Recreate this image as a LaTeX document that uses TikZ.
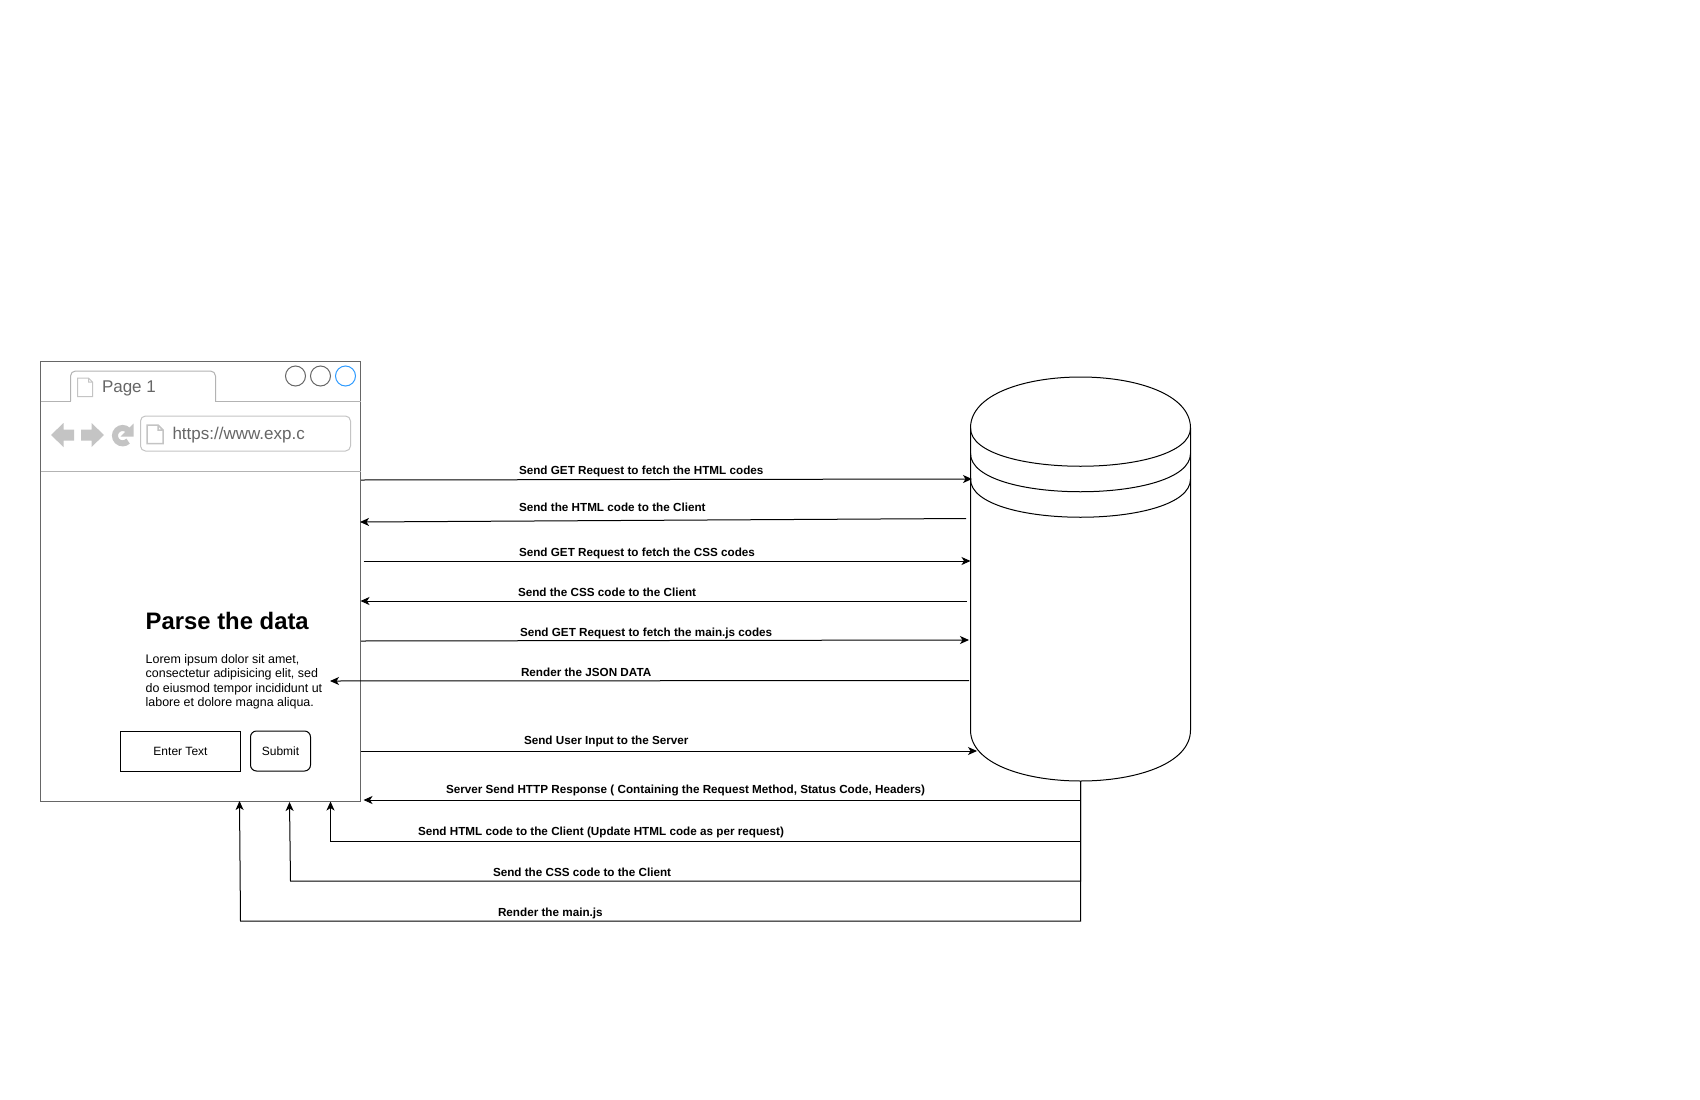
\documentclass[tikz,border=0pt]{standalone}
\usepackage{fontspec}
\setmainfont{Liberation Sans}
\usetikzlibrary{arrows.meta}
\definecolor{mockgray}{HTML}{666666}
\definecolor{mocklight}{HTML}{B3B3B3}
\definecolor{mockicon}{HTML}{C4C4C4}
\definecolor{mockblue}{HTML}{2E9BFF}
\tikzset{
  x=1pt,y=-1pt,
  flow/.style={draw=black,line width=1pt,-{Stealth[length=9pt,width=8pt,inset=2.5pt]}},
  lab/.style={anchor=base west,inner sep=0pt,outer sep=0pt,font=\fontsize{11.7}{14.4}\selectfont\bfseries},
  winbtn/.style={circle,draw=mockgray,line width=1pt,minimum size=20pt,inner sep=0pt,outer sep=0pt},
  uibox/.style={draw=black,line width=1pt,minimum width=120pt,minimum height=40pt,inner sep=0pt,outer sep=0pt,font=\fontsize{12}{14.4}\selectfont},
  mocktext/.style={anchor=base west,inner sep=0pt,outer sep=0pt,text=mockgray,font=\fontsize{17}{20}\selectfont},
}
\begin{document}
\begin{tikzpicture}
\useasboundingbox[fill=white] (0,0) rectangle (1700,1100);
\begin{scope}[yshift=-0.5pt]
% browser window
\node[draw=mockgray,line width=1pt,anchor=north west,minimum width=320pt,minimum height=440pt,inner sep=0pt,outer sep=0pt] (browser) at (40.5,360.5) {};
\draw[mocklight,line width=1pt] (40.5,400.5) -- (360.5,400.5);
\fill[white] (71,399) rectangle (215,402);
\draw[mocklight,line width=1pt,rounded corners=5pt] (70.5,400.5) -- (70.5,370.5) -- (215.5,370.5) -- (215.5,400.5);
\draw[mocklight,line width=1pt] (40.5,470.5) -- (360.5,470.5);
\node[winbtn] (btnA) at (295.5,375.5) {};
\node[winbtn] (btnB) at (320.5,375.5) {};
\node[winbtn,draw=mockblue] (btnC) at (345.5,375.5) {};
% tab
\draw[mockicon,line width=1pt] (77.5,377.5) -- (88.5,377.5) -- (92.5,381.5) -- (92.5,396) -- (77.5,396) -- cycle (88.5,377.5) -- (88.5,381.5) -- (92.5,381.5);
\node[mocktext] (tabtext) at (102,391.5) {Page 1};
% nav
\fill[mockicon] (51,434.5) -- (63.5,422.5) -- (63.5,429) -- (74,429) -- (74,440) -- (63.5,440) -- (63.5,446.5) -- cycle;
\fill[mockicon] (104,434.5) -- (91.5,422.5) -- (91.5,429) -- (81,429) -- (81,440) -- (91.5,440) -- (91.5,446.5) -- cycle;
\draw[mockicon,line width=6pt] (128.1,440.6) arc[start angle=45,end angle=315,radius=7.7];
\fill[mockicon] (133.5,423) -- (133.5,436) -- (120.5,436) -- cycle;
\node[draw=mockicon,line width=1pt,anchor=north west,minimum width=210pt,minimum height=35pt,rounded corners=5pt,inner sep=0pt,outer sep=0pt] (urlbox) at (140.5,415.5) {};
\draw[mockicon,line width=1.5pt] (147,424.5) -- (158,424.5) -- (163,429.5) -- (163,443) -- (147,443) -- cycle (158,424.5) -- (158,429.5) -- (163,429.5);
\node[mocktext] (urltext) at (172.5,439) {https://www.exp.c};
% content
\node[anchor=base west,inner sep=0pt,font=\fontsize{23.85}{28}\selectfont\bfseries] (title) at (145.5,629) {Parse the data};
\node[anchor=north west,inner sep=0pt,align=left,font=\fontsize{12.45}{14.3}\selectfont] (para) at (145.5,653.8) {Lorem ipsum dolor sit amet,\\consectetur adipisicing elit, sed\\do eiusmod tempor incididunt ut\\labore et dolore magna aliqua.};
\node[uibox,anchor=north west] (enter) at (120.5,730.5) {\raisebox{-0.7pt}{Enter Text}};
\node[uibox,anchor=north west,minimum width=60pt,rounded corners=6pt] (submit) at (250.5,730.5) {\raisebox{-0.7pt}{Submit}};
% database
\node[anchor=north west,minimum width=220pt,minimum height=404pt,inner sep=0pt,outer sep=0pt] (db) at (970.5,376.5) {};
\draw[black,line width=1pt] (970.5,427.5) .. controls (970.5,359.5) and (1190.5,359.5) .. (1190.5,427.5) -- (1190.5,729.5) .. controls (1190.5,797.5) and (970.5,797.5) .. (970.5,729.5) -- cycle;
\draw[black,line width=1pt] (970.5,427.5) .. controls (970.5,478.5) and (1190.5,478.5) .. (1190.5,427.5);
\draw[black,line width=1pt] (970.5,453) .. controls (970.5,504) and (1190.5,504) .. (1190.5,453);
\draw[black,line width=1pt] (970.5,478.5) .. controls (970.5,529.5) and (1190.5,529.5) .. (1190.5,478.5);
% connector end points
\coordinate (a1s) at (361,479.5); \coordinate (a1e) at (972,478.5);
\coordinate (a2s) at (966,518); \coordinate (a2e) at (360,521.5);
\coordinate (a3s) at (363.5,560.5); \coordinate (a3e) at (970.5,560.5);
\coordinate (a4s) at (967,600.5); \coordinate (a4e) at (360.5,600.5);
\coordinate (a5s) at (361,640.5); \coordinate (a5e) at (969,639.5);
\coordinate (a6s) at (969,680); \coordinate (a6e) at (330,680.5);
\coordinate (a7s) at (361,750.5); \coordinate (a7e) at (977,750.5);
\coordinate (r1v) at (1080.5,799.5); \coordinate (r1e) at (363.5,799.5);
\coordinate (r2v) at (1080.5,840.5); \coordinate (r2c) at (330.5,840.5); \coordinate (r2e) at (330.5,801);
\coordinate (r3v) at (1080.5,880.5); \coordinate (r3c) at (290.5,880.5); \coordinate (r3e) at (289.5,801.5);
\coordinate (r4v) at (1080.5,920.5); \coordinate (r4c) at (240.5,920.5); \coordinate (r4e) at (239.5,800.5);
% connectors
\draw[flow] (a1s) -- (a1e);
\draw[flow] (a2s) -- (a2e);
\draw[flow] (a3s) -- (a3e);
\draw[flow] (a4s) -- (a4e);
\draw[flow] (a5s) -- (a5e);
\draw[flow] (a6s) -- (a6e);
\draw[flow] (a7s) -- (a7e);
\draw[flow] (db.south) -- (r1v) -- (r1e);
\draw[flow] (db.south) -- (r2v) -- (r2c) -- (r2e);
\draw[flow] (db.south) -- (r3v) -- (r3c) -- (r3e);
\draw[flow] (db.south) -- (r4v) -- (r4c) -- (r4e);
% labels
\node[lab] (l1) at (519,474) {Send GET Request to fetch the HTML codes};
\node[lab] (l2) at (519,511) {Send the HTML code to the Client};
\node[lab] (l3) at (519,556) {Send GET Request to fetch the CSS codes};
\node[lab] (l4) at (518,596) {Send the CSS code to the Client};
\node[lab] (l5) at (520,636) {Send GET Request to fetch the main.js codes};
\node[lab] (l6) at (521,676) {Render the JSON DATA};
\node[lab] (l7) at (524,744) {Send User Input to the Server};
\node[lab] (l8) at (446,793) {Server Send HTTP Response ( Containing the Request Method, Status Code, Headers)};
\node[lab] (l9) at (418,835) {Send HTML code to the Client (Update HTML code as per request)};
\node[lab] (l10) at (493,876) {Send the CSS code to the Client};
\node[lab] (l11) at (498,916) {Render the main.js};
\end{scope}
\end{tikzpicture}
\end{document}
